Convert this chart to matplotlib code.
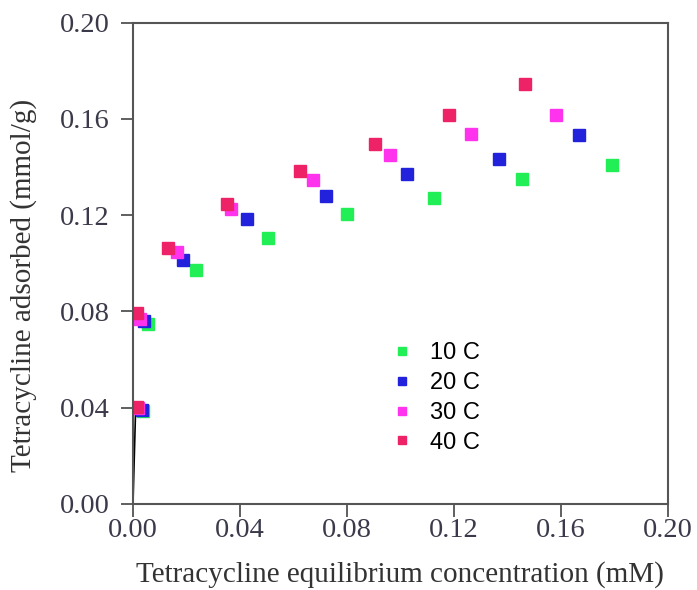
import numpy as np
import matplotlib.pyplot as plt

# Adsorption isotherm data
x10 = [0.0039, 0.0057, 0.0236, 0.0506, 0.0799, 0.1128, 0.1456, 0.1793]
y10 = [0.0387, 0.0749, 0.0971, 0.1105, 0.1207, 0.1272, 0.1351, 0.1409]
x20 = [0.0032, 0.0041, 0.0186, 0.0427, 0.0724, 0.1026, 0.1370, 0.1670]
y20 = [0.0390, 0.0760, 0.1013, 0.1184, 0.1278, 0.1372, 0.1433, 0.1534]
x30 = [0.0020, 0.0026, 0.0163, 0.0366, 0.0674, 0.0961, 0.1266, 0.1583]
y30 = [0.0397, 0.0770, 0.1047, 0.1227, 0.1346, 0.1451, 0.1539, 0.1617]
x40 = [0.0014, 0.0014, 0.0132, 0.0350, 0.0624, 0.0905, 0.1181, 0.1467]
y40 = [0.0401, 0.0795, 0.1064, 0.1246, 0.1382, 0.1496, 0.1615, 0.1745]

# thin black curve near the origin
fit_x = [0.0, 0.0003, 0.0007, 0.0010]
fit_y = [0.0, 0.012, 0.028, 0.040]

labels = ['10 C', '20 C', '30 C', '40 C']
colors = ['#22ee55', '#2222dd', '#ff33ee', '#ee2266']

fig = plt.figure(figsize=(6.97, 5.90), dpi=100)
ax = fig.add_axes([0.1908, 0.1458, 0.7669, 0.8157])

ax.plot(fit_x, fit_y, color='black', lw=1.2)
for xs, ys, lab, c in zip([x10, x20, x30, x40], [y10, y20, y30, y40], labels, colors):
    ax.plot(xs, ys, 's', ms=8, color=c, mec=c, label=lab, ls='none')

ax.set_xlim(0, 0.20)
ax.set_ylim(0, 0.20)
ticks = np.arange(0, 0.201, 0.04)
ax.set_xticks(ticks)
ax.set_yticks(ticks)
ax.set_xticklabels(['%.2f' % t for t in ticks])
ax.set_yticklabels(['%.2f' % t for t in ticks])
ax.tick_params(direction='out', length=9, width=1.2, color='#444444',
               labelsize=20.5)
ax.tick_params(axis='y', pad=8)
ax.tick_params(axis='x', pad=1)
for lab in ax.get_xticklabels() + ax.get_yticklabels():
    lab.set_family('Liberation Serif')
    lab.set_color('#3a3a4a')
for s in ax.spines.values():
    s.set_color('#555555')
    s.set_linewidth(1.5)

ax.set_xlabel('Tetracycline equilibrium concentration (mM)', family='Liberation Serif',
              fontsize=21, color='#333333', labelpad=13)
ax.set_ylabel('Tetracycline adsorbed (mmol/g)', family='Liberation Serif',
              fontsize=21, color='#333333')
ax.yaxis.set_label_coords(-0.18, 0.455)

leg = ax.legend(loc='upper left', bbox_to_anchor=(0.445, 0.38), frameon=False,
                markerscale=0.7, handlelength=0.8, handletextpad=0.8,
                labelspacing=0.33, prop={'family': 'Liberation Sans', 'size': 17})

fig.savefig('out.png', dpi=100)
